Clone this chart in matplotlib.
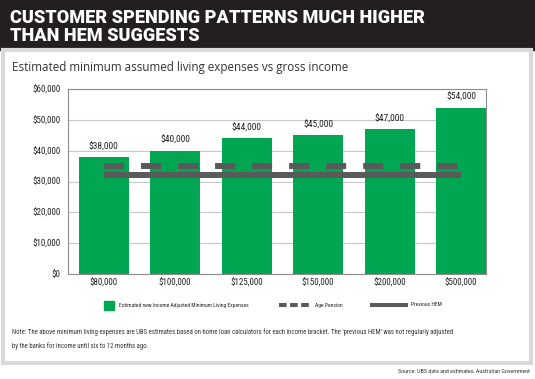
import matplotlib
matplotlib.use('Agg')
import matplotlib.pyplot as plt
from matplotlib import font_manager
from matplotlib.patches import Rectangle
from matplotlib.lines import Line2D

# data
incomes = ['$80,000', '$100,000', '$125,000', '$150,000', '$200,000', '$500,000']
expenses = [38000, 40000, 44000, 45000, 47000, 54000]
agePension = [35000] * 6
previousHem = [32000] * 6
yTicks = [0, 10000, 20000, 30000, 40000, 50000, 60000]

green = '#00a651'
lineGrey = '#5a5a5a'

# pick the narrowest family that is installed
installed = {f.name for f in font_manager.fontManager.ttflist}
narrow = {'family': 'DejaVu Sans', 'stretch': 'condensed'}
for fam in ['Roboto Condensed', 'Liberation Sans Narrow', 'Open Sans Condensed']:
    if fam in installed:
        narrow = {'family': fam}
        break

W, H = 535, 379
fig = plt.figure(figsize=(W / 100, H / 100), dpi=100)

def px(x, y, w, h):
    return [x / W, 1 - (y + h) / H, w / W, h / H]

def fx(x):
    return x / W

def fy(y):
    return 1 - y / H

# background panels
fig.patches.append(Rectangle((0, fy(50)), 1, 50 / H, transform=fig.transFigure,
                             color='#231f20', zorder=-10))
fig.patches.append(Rectangle((fx(3), fy(363)), 528 / W, 313 / H, transform=fig.transFigure,
                             facecolor='white', edgecolor='#d9d9d9', linewidth=3, zorder=-10))

fig.text(fx(10), fy(27), 'CUSTOMER SPENDING PATTERNS MUCH HIGHER\nTHAN HEM SUGGESTS',
         color='white', fontsize=13.1, fontweight='heavy', family=['Roboto', 'DejaVu Sans'],
         va='center', ha='left', linespacing=0.95)
fig.text(fx(12), fy(67), 'Estimated minimum assumed living expenses vs gross income',
         color='#333333', fontsize=8.4, family=['Open Sans', 'DejaVu Sans'],
         va='center', ha='left')

# ------------------------------- chart -------------------------------
ax = fig.add_axes(px(68, 89, 418, 185))
x = list(range(len(incomes)))
ax.bar(x, expenses, width=0.7, color=green, zorder=2)
ax.plot(x, agePension, color=lineGrey, linewidth=4.3, dashes=(3.35, 2.85), zorder=3)
ax.plot(x, previousHem, color=lineGrey, linewidth=4.3, solid_capstyle='butt', zorder=3)

for xi, v in zip(x, expenses):
    ax.text(xi, v + 1800, '${:,}'.format(v), ha='center', va='bottom', fontsize=6.8,
            color='#222222', **narrow)

ax.set_xlim(-0.5, 5.35)
ax.set_ylim(0, 60000)
ax.set_yticks(yTicks)
ax.set_yticklabels(['${:,}'.format(t) for t in yTicks])
ax.set_xticks(x)
ax.set_xticklabels(incomes)
ax.grid(axis='y', color='#c8c8c8', linewidth=0.8, zorder=0)
ax.set_axisbelow(True)
for s in ax.spines.values():
    s.set_color('#8c8c8c')
    s.set_linewidth(0.8)
ax.tick_params(length=0, labelsize=6.5, labelcolor='#222222')
ax.tick_params(axis='y', pad=5.5)
ax.tick_params(axis='x', pad=3.5)
for lbl in ax.get_xticklabels() + ax.get_yticklabels():
    lbl.set_family(narrow['family'])
    if 'stretch' in narrow:
        lbl.set_stretch(narrow['stretch'])

# legend, laid out by hand
legY = 305
legSize = 4.1
fig.patches.append(Rectangle((fx(104), fy(310)), 10 / W, 9 / H, transform=fig.transFigure,
                             color=green))
fig.text(fx(119), fy(legY), 'Estimated new Income Adjusted Minimum Living Expenses',
         fontsize=legSize, va='center', ha='left', color='#222222', **narrow)
fig.add_artist(Line2D([fx(279), fx(309)], [fy(legY), fy(legY)], transform=fig.transFigure,
                      color=lineGrey, linewidth=2.9, dashes=(1.9, 0.85)))
fig.text(fx(315), fy(legY), 'Age Pension',
         fontsize=legSize, va='center', ha='left', color='#222222', **narrow)
fig.add_artist(Line2D([fx(370), fx(408)], [fy(legY), fy(legY)], transform=fig.transFigure,
                      color=lineGrey, linewidth=2.9, solid_capstyle='butt'))
fig.text(fx(411), fy(legY), 'Previous HEM',
         fontsize=legSize, va='center', ha='left', color='#222222', **narrow)

fig.text(fx(12), fy(332),
         "Note: The above minimum living expenses are UBS estimates based on home loan calculators for each income bracket. The 'previous HEM' was not regularly adjusted",
         fontsize=4.85, color='#333333', va='center', ha='left', **narrow)
fig.text(fx(12), fy(346), 'by the banks for income until six to 12 months ago.',
         fontsize=4.85, color='#333333', va='center', ha='left', **narrow)
fig.text(fx(530), fy(371), 'Source: UBS data and estimates, Australian Government',
         fontsize=4.35, color='#333333', va='center', ha='right', **narrow)

fig.savefig('out.png', dpi=100)
